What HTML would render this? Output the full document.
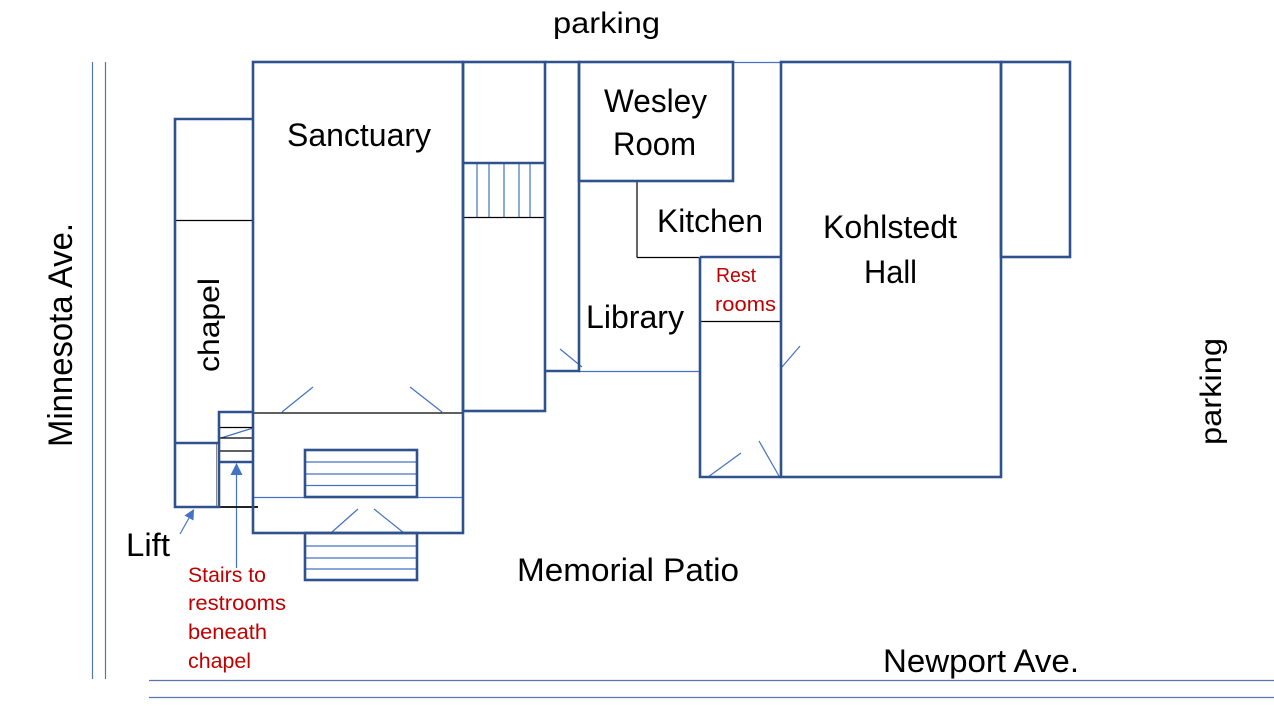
<!DOCTYPE html>
<html>
<head>
<meta charset="utf-8">
<style>
  html,body{margin:0;padding:0;background:#fff;}
  svg{display:block;}
  text{font-family:"Liberation Sans", Arial, sans-serif;}
</style>
</head>
<body>
<svg width="1274" height="706" viewBox="0 0 1274 706" xmlns="http://www.w3.org/2000/svg">
  <rect x="0" y="0" width="1274" height="706" fill="#ffffff"/>

  <!-- Roads -->
  <g stroke="#5677AD" stroke-width="1.2" fill="none">
    <line x1="92.5" y1="62" x2="92.5" y2="679"/>
    <line x1="105.5" y1="62" x2="105.5" y2="679"/>
    <line x1="149" y1="680.5" x2="1274" y2="680.5"/>
    <line x1="149" y1="697.5" x2="1274" y2="697.5"/>
  </g>

  <!-- Thin blue lines -->
  <g stroke="#4472C4" stroke-width="1.2" fill="none">
    <!-- stair verticals right of sanctuary -->
    <line x1="477" y1="163" x2="477" y2="217"/>
    <line x1="489" y1="163" x2="489" y2="217"/>
    <line x1="504" y1="163" x2="504" y2="217"/>
    <line x1="519" y1="163" x2="519" y2="217"/>
    <line x1="530" y1="163" x2="530" y2="217"/>
    <!-- library bottom -->
    <line x1="579" y1="371.5" x2="700" y2="371.5"/>
    <!-- top between wesley and kohlstedt -->
    <line x1="733" y1="62.5" x2="781" y2="62.5"/>
    <!-- sanctuary vestibule line -->
    <line x1="253" y1="497.5" x2="463" y2="497.5"/>
    <!-- inner steps -->
    <line x1="305" y1="462" x2="417" y2="462"/>
    <line x1="305" y1="474" x2="417" y2="474"/>
    <line x1="305" y1="485.5" x2="417" y2="485.5"/>
    <!-- outer steps -->
    <line x1="305" y1="546" x2="417" y2="546"/>
    <line x1="305" y1="558" x2="417" y2="558"/>
    <line x1="305" y1="569" x2="417" y2="569"/>
    <!-- door swings -->
    <line x1="282" y1="412" x2="313" y2="387"/>
    <line x1="410" y1="387" x2="442" y2="412"/>
    <line x1="332" y1="532" x2="358" y2="509"/>
    <line x1="374" y1="509" x2="404" y2="533"/>
    <line x1="560" y1="349" x2="582" y2="367"/>
    <line x1="708" y1="477" x2="741" y2="453"/>
    <line x1="759" y1="441" x2="779" y2="476"/>
    <line x1="782" y1="367" x2="800" y2="346"/>
    <!-- small stair diagonal -->
    <line x1="221" y1="438" x2="253" y2="428"/>
    <!-- arrows -->
    <line x1="180" y1="534" x2="189" y2="518"/>
    <line x1="236.5" y1="568" x2="236.5" y2="473"/>
  </g>
  <g fill="#4472C4" stroke="none">
    <polygon points="194,509 193.5,520.5 184.5,515.5"/>
    <polygon points="236.5,463 230.5,475 242.5,475"/>
  </g>

  <!-- Thin black lines -->
  <g stroke="#000" stroke-width="1.2" fill="none">
    <line x1="175" y1="220.5" x2="253" y2="220.5"/>
    <line x1="219" y1="427.5" x2="253" y2="427.5"/>
    <line x1="219" y1="438" x2="253" y2="438"/>
    <line x1="219" y1="451" x2="253" y2="451"/>
    <line x1="253" y1="413" x2="463" y2="413"/>
    <line x1="463" y1="217.5" x2="545" y2="217.5"/>
    <line x1="637" y1="181" x2="637" y2="257.5"/>
    <line x1="637" y1="257.5" x2="700" y2="257.5"/>
    <line x1="700" y1="321.5" x2="781" y2="321.5"/>
  </g>
  <line x1="219" y1="507" x2="258" y2="507" stroke="#222" stroke-width="2"/>
  <line x1="216.5" y1="443" x2="216.5" y2="507" stroke="#888" stroke-width="1"/>

  <!-- Thick dark blue walls -->
  <g stroke="#2F528F" stroke-width="2.6" fill="none" stroke-linejoin="miter">
    <rect x="253" y="62" width="210" height="471"/>
    <path d="M253,119 H175 V507 H219 V443 H175"/>
    <path d="M219,443 V412 H253"/>
    <line x1="219" y1="462" x2="253" y2="462"/>
    <rect x="463" y="62" width="82" height="349"/>
    <line x1="463" y1="163" x2="545" y2="163"/>
    <path d="M545,62 H579 V371 H545"/>
    <rect x="579" y="62" width="154" height="119"/>
    <path d="M700,257 H781"/>
    <path d="M700,257 V477 H781"/>
    <rect x="781" y="62" width="220" height="415"/>
    <rect x="1001" y="62" width="69" height="195"/>
    <rect x="305" y="450" width="112" height="47"/>
    <rect x="305" y="533" width="112" height="47"/>
  </g>

  <!-- Labels -->
  <g fill="#000">
    <text x="553" y="33" font-size="30" textLength="107" lengthAdjust="spacingAndGlyphs">parking</text>
    <text x="287" y="146" font-size="32" textLength="144" lengthAdjust="spacingAndGlyphs">Sanctuary</text>
    <text x="604" y="112" font-size="32" textLength="103" lengthAdjust="spacingAndGlyphs">Wesley</text>
    <text x="613" y="155" font-size="32" textLength="83" lengthAdjust="spacingAndGlyphs">Room</text>
    <text x="657" y="232" font-size="32" textLength="106" lengthAdjust="spacingAndGlyphs">Kitchen</text>
    <text x="586" y="328" font-size="32" textLength="98" lengthAdjust="spacingAndGlyphs">Library</text>
    <text x="823" y="238" font-size="32" textLength="134" lengthAdjust="spacingAndGlyphs">Kohlstedt</text>
    <text x="864" y="283" font-size="32" textLength="53" lengthAdjust="spacingAndGlyphs">Hall</text>
    <text x="126" y="556" font-size="32" textLength="44" lengthAdjust="spacingAndGlyphs">Lift</text>
    <text x="517" y="581" font-size="32" textLength="222" lengthAdjust="spacingAndGlyphs">Memorial Patio</text>
    <text x="883" y="672" font-size="32" textLength="196" lengthAdjust="spacingAndGlyphs">Newport Ave.</text>
    <text transform="translate(72,447) rotate(-90)" x="0" y="0" font-size="34" textLength="224" lengthAdjust="spacingAndGlyphs">Minnesota Ave.</text>
    <text transform="translate(219,372) rotate(-90)" x="0" y="0" font-size="30" textLength="94" lengthAdjust="spacingAndGlyphs">chapel</text>
    <text transform="translate(1221,445) rotate(-90)" x="0" y="0" font-size="30" textLength="107" lengthAdjust="spacingAndGlyphs">parking</text>
  </g>
  <g fill="#C00000">
    <text x="716" y="282" font-size="20" textLength="40" lengthAdjust="spacingAndGlyphs">Rest</text>
    <text x="715" y="311" font-size="20" textLength="61" lengthAdjust="spacingAndGlyphs">rooms</text>
    <text x="188" y="582" font-size="21" textLength="78" lengthAdjust="spacingAndGlyphs">Stairs to</text>
    <text x="188" y="610" font-size="21" textLength="98" lengthAdjust="spacingAndGlyphs">restrooms</text>
    <text x="188" y="639" font-size="21" textLength="79" lengthAdjust="spacingAndGlyphs">beneath</text>
    <text x="188" y="668" font-size="21" textLength="63" lengthAdjust="spacingAndGlyphs">chapel</text>
  </g>
</svg>
</body>
</html>
